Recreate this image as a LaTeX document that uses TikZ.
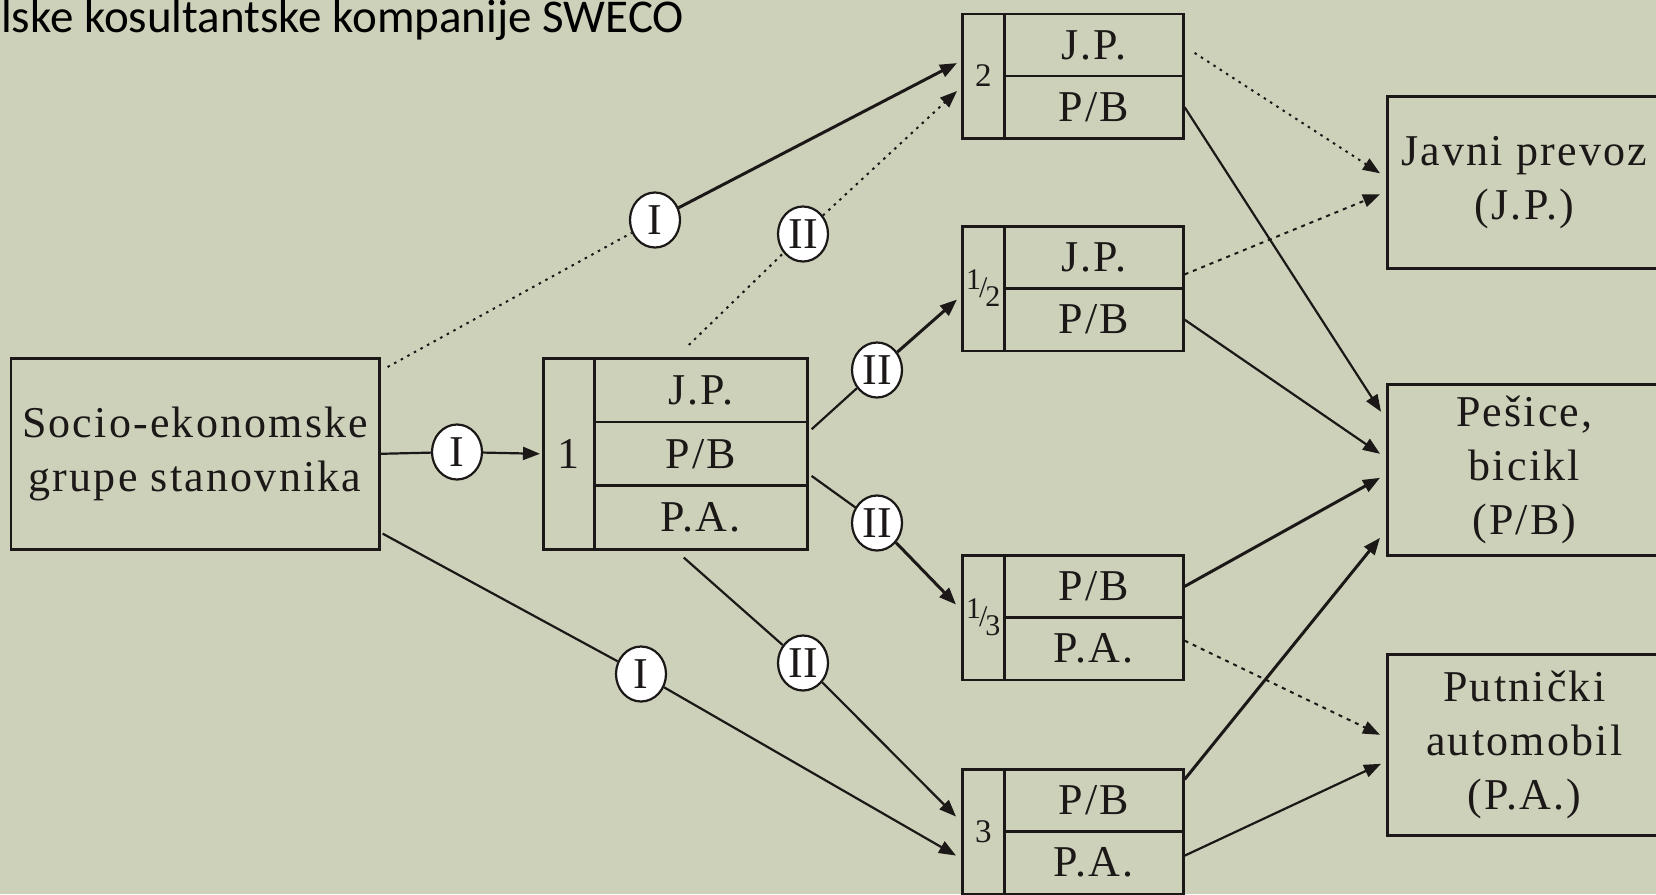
\documentclass[tikz,border=0pt]{standalone}
\usepackage{fontspec}
\setmainfont{Liberation Serif}
\newfontfamily\titlefont{Carlito}
\newfontfamily\boxfont[LetterSpace=5]{Liberation Serif}
\usetikzlibrary{arrows.meta,shapes.geometric}
\definecolor{bg}{RGB}{205,209,185}
\definecolor{ink}{RGB}{28,24,24}
\tikzset{
  cell/.style={draw=ink, line width=2.6pt, inner sep=0pt, anchor=north west, text=ink, font=\boxfont\fontsize{44}{54}\selectfont},
  bigbox/.style={cell, align=center},
  numbig/.style={font=\fontsize{44}{44}\selectfont},
  numsmall/.style={font=\fontsize{33}{33}\selectfont},
  lab/.style={draw=ink, fill=white, ellipse, line width=2.2pt, inner sep=0pt, minimum width=50pt, minimum height=55pt, text=ink, font=\fontsize{44}{44}\selectfont},
  con/.style={draw=ink, line width=2.2pt},
  heavycon/.style={draw=ink, line width=3pt},
  dotline/.style={draw=ink, line width=2pt, dash pattern=on 2.5pt off 5pt},
  dashline/.style={draw=ink, line width=2pt, dash pattern=on 4pt off 5pt},
  arr/.style={-{Triangle[length=17pt,width=13pt]}},
}
\newcommand{\myfrac}[2]{{\fontsize{30}{30}\selectfont\raisebox{8pt}{#1}\kern-2pt/\kern-2pt\raisebox{-9pt}{#2}}}
\begin{document}
\begin{tikzpicture}[x=1pt,y=-1pt]
\fill[bg] (0,0) rectangle (1656,894);
\useasboundingbox (0,0) rectangle (1656,894);
\clip (0,0) rectangle (1656,894);

% title
\node[anchor=base west, inner sep=0pt, text=black, font=\titlefont\fontsize{47}{47}\selectfont] (title) at (1,32) {lske kosultantske kompanije SWECO};

% left box
\node[bigbox, minimum width=368.5pt, minimum height=191pt] (socio) at (9.5,357) {Socio-ekonomske\\grupe stanovnika};

% box 1
\node[cell, numbig, minimum width=51pt, minimum height=191pt] (b1n) at (542,357) {1};
\node[cell, minimum width=213pt, minimum height=63.67pt] (b1jp) at (593,357) {J.P.};
\node[cell, minimum width=213pt, minimum height=63.67pt] (b1pb) at (593,420.67) {P/B};
\node[cell, minimum width=213pt, minimum height=63.67pt] (b1pa) at (593,484.33) {P.A.};

% box 2
\node[cell, numsmall, minimum width=42pt, minimum height=124.5pt] (b2n) at (961,12.5) {2};
\node[cell, minimum width=179pt, minimum height=62.25pt] (b2jp) at (1003,12.5) {J.P.};
\node[cell, minimum width=179pt, minimum height=62.25pt] (b2pb) at (1003,74.75) {P/B};

% box 1/2
\node[cell, minimum width=42pt, minimum height=124.5pt] (b12n) at (961,225) {\myfrac{1}{2}};
\node[cell, minimum width=179pt, minimum height=62.25pt] (b12jp) at (1003,225) {J.P.};
\node[cell, minimum width=179pt, minimum height=62.25pt] (b12pb) at (1003,287.25) {P/B};

% box 1/3
\node[cell, minimum width=42pt, minimum height=124.5pt] (b13n) at (961,554) {\myfrac{1}{3}};
\node[cell, minimum width=179pt, minimum height=62.25pt] (b13pb) at (1003,554) {P/B};
\node[cell, minimum width=179pt, minimum height=62.25pt] (b13pa) at (1003,616.25) {P.A.};

% box 3
\node[cell, numsmall, minimum width=42pt, minimum height=124.5pt] (b3n) at (961,768) {3};
\node[cell, minimum width=179pt, minimum height=62.25pt] (b3pb) at (1003,768) {P/B};
\node[cell, minimum width=179pt, minimum height=62.25pt] (b3pa) at (1003,830.25) {P.A.};

% right boxes
\node[bigbox, minimum width=274pt, minimum height=172pt] (jav) at (1386,95) {Javni prevoz\\(J.P.)};
\node[bigbox, minimum width=274pt, minimum height=171pt] (pes) at (1386,383) {Pešice,\\bicikl\\(P/B)};
\node[bigbox, minimum width=274pt, minimum height=181pt] (put) at (1386,653) {Putnički\\automobil\\(P.A.)};

% label circles
\node[lab] (cI0) at (457,452) {I};
\node[lab] (cI1) at (655,220) {I};
\node[lab] (cI2) at (641,674) {I};
\node[lab] (cII1) at (803,234) {II};
\node[lab] (cII2) at (877,370) {II};
\node[lab] (cII3) at (877,523) {II};
\node[lab] (cII4) at (803,663) {II};

% left connectors
\draw[con] (socio.east) -- (cI0);
\draw[con,arr] (cI0) -- ([xshift=-2pt]b1n.west);
\draw[dotline] ([xshift=7pt,yshift=-10pt]socio.north east) -- (cI1);
\draw[heavycon,arr] (cI1) -- ([xshift=-4pt,yshift=13pt]b2n.west);
\draw[dotline] ([xshift=-12pt,yshift=12pt]b1jp.north) -- (cII1);
\draw[dotline,arr] (cII1) -- ([xshift=-4pt,yshift=-15pt]b2n.west);
\draw[con] ([xshift=3pt,yshift=-6pt]b1jp.south east) -- (cII2);
\draw[heavycon,arr] (cII2) -- ([xshift=-4pt,yshift=-11pt]b12n.west);
\draw[con] ([xshift=3pt,yshift=11pt]b1pb.south east) -- (cII3);
\draw[heavycon,arr] (cII3) -- ([xshift=-5pt,yshift=13pt]b13n.west);
\draw[con] ([xshift=-17pt,yshift=-7pt]b1pa.south) -- (cII4);
\draw[con,arr] (cII4) -- ([xshift=-5pt,yshift=15pt]b3n.west);
\draw[con] ([xshift=2pt,yshift=17pt]socio.south east) -- (cI2);
\draw[con,arr] (cI2) -- ([xshift=-5pt,yshift=-24pt]b3n.west);

% right connectors
\draw[dotline,arr] ([xshift=10pt,yshift=-8pt]b2jp.east) -- ([xshift=-6pt,yshift=9pt]jav.west);
\draw[dashline,arr] ([yshift=-17pt]b12jp.east) -- ([xshift=-6pt,yshift=-12pt]jav.west);
\draw[con,arr] (b2pb.east) -- ([xshift=-5pt,yshift=58pt]pes.west);
\draw[con,arr] (b12pb.east) -- ([xshift=-6pt,yshift=16pt]pes.west);
\draw[heavycon,arr] (b13pb.east) -- ([xshift=-6pt,yshift=-8pt]pes.west);
\draw[heavycon,arr] ([yshift=21pt]b3pb.east) -- ([xshift=-6pt,yshift=-68pt]pes.west);
\draw[dashline,arr] ([yshift=8pt]b13pa.east) -- ([xshift=-6pt,yshift=10pt]put.west);
\draw[con,arr] ([yshift=7pt]b3pa.east) -- ([xshift=-5pt,yshift=-19pt]put.west);
\end{tikzpicture}
\end{document}
